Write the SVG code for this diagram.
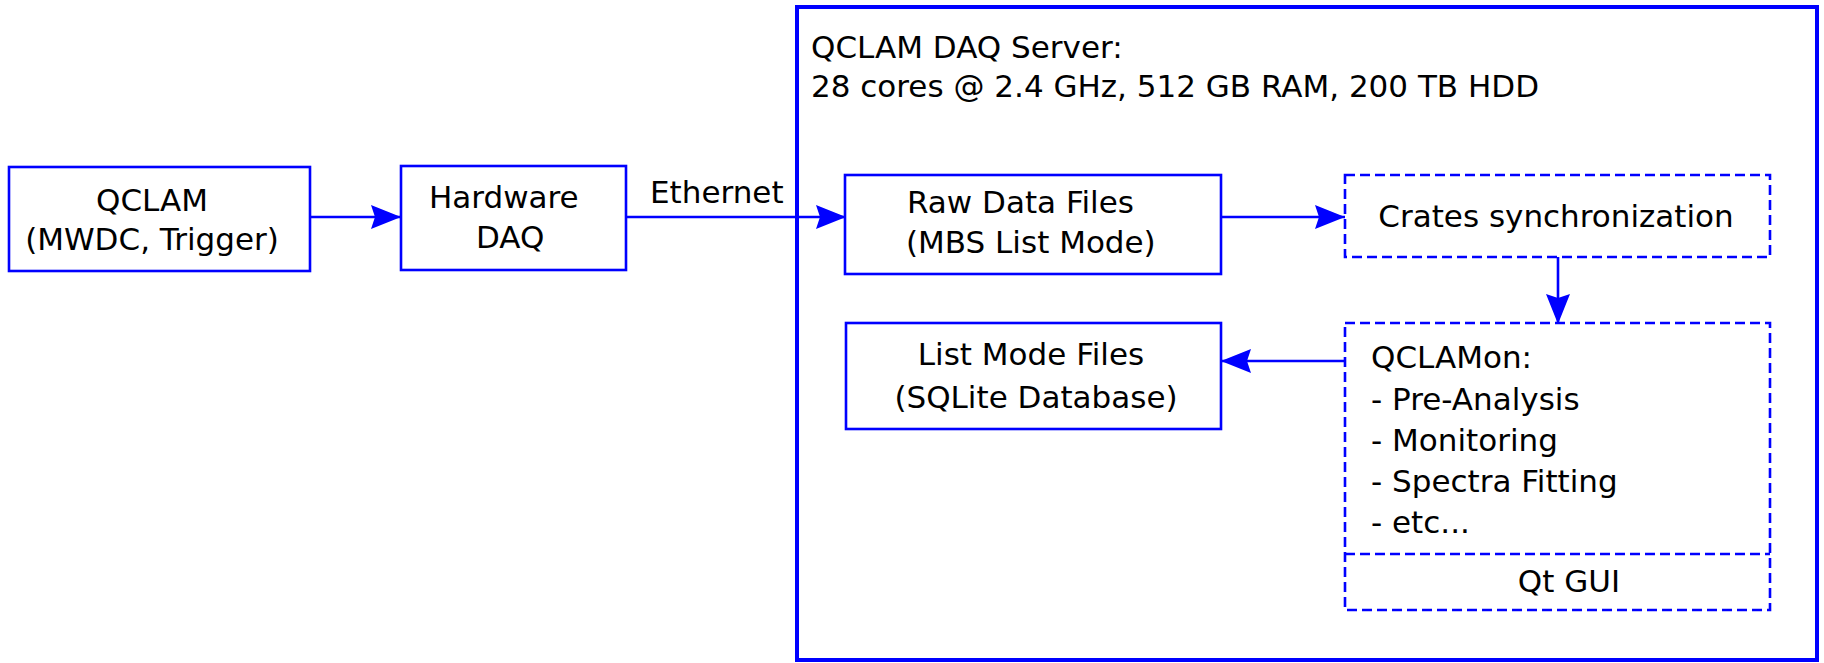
<svg xmlns="http://www.w3.org/2000/svg" width="1824" height="663" viewBox="0 0 1824 663">
<style>
text{font-family:"DejaVu Sans","Liberation Sans",sans-serif;font-size:31px;fill:#000}
.box{fill:none;stroke:#0000ff;stroke-width:2.6}
.dash{fill:none;stroke:#0000ff;stroke-width:2.6;stroke-dasharray:10 5}
.con{fill:none;stroke:#0000ff;stroke-width:2.6}
.mid{text-anchor:middle}
</style>
<defs>
<marker id="arr" markerUnits="userSpaceOnUse" markerWidth="32" markerHeight="26" refX="30" refY="12" orient="auto">
<path d="M0,0 L30,12 L0,24 L4,12 Z" fill="#0000ff"/>
</marker>
</defs>
<rect x="1" y="1" width="1822" height="661" fill="#fff"/>
<g id="server">
<rect x="797" y="7" width="1020" height="653" fill="none" stroke="#0000ff" stroke-width="4"/>
<text x="811" y="58">QCLAM DAQ Server:</text>
<text x="811" y="97">28 cores @ 2.4 GHz, 512 GB RAM, 200 TB HDD</text>
</g>
<g id="qclam">
<rect class="box" x="9" y="167" width="301" height="104"/>
<text class="mid" x="152" y="211">QCLAM</text>
<text class="mid" x="152" y="250">(MWDC, Trigger)</text>
</g>
<g id="hwdaq">
<rect class="box" x="401" y="166" width="225" height="104"/>
<text x="429" y="208">Hardware</text>
<text x="476" y="248">DAQ</text>
</g>
<g id="raw">
<rect class="box" x="845" y="175" width="376" height="99"/>
<text x="907" y="213">Raw Data Files</text>
<text x="906" y="253">(MBS List Mode)</text>
</g>
<g id="crates">
<rect class="dash" x="1345" y="175" width="425" height="82"/>
<text class="mid" x="1556" y="227">Crates synchronization</text>
</g>
<g id="listmode">
<rect class="box" x="846" y="323" width="375" height="106"/>
<text class="mid" x="1031" y="365">List Mode Files</text>
<text class="mid" x="1036" y="408">(SQLite Database)</text>
</g>
<g id="qclamon">
<rect class="dash" x="1345" y="323" width="425" height="287"/>
<line class="dash" x1="1345" y1="554" x2="1770" y2="554"/>
<text x="1371" y="368">QCLAMon:</text>
<text x="1371" y="410">- Pre-Analysis</text>
<text x="1371" y="451">- Monitoring</text>
<text x="1371" y="492">- Spectra Fitting</text>
<text x="1371" y="533">- etc...</text>
<text class="mid" x="1569" y="592">Qt GUI</text>
</g>
<g id="connectors">
<line class="con" x1="310" y1="217" x2="401" y2="217" marker-end="url(#arr)"/>
<line class="con" x1="626" y1="217" x2="846" y2="217" marker-end="url(#arr)"/>
<text x="650" y="203">Ethernet</text>
<line class="con" x1="1221" y1="217" x2="1345" y2="217" marker-end="url(#arr)"/>
<line class="con" x1="1558" y1="257" x2="1558" y2="324" marker-end="url(#arr)"/>
<line class="con" x1="1345" y1="361" x2="1221" y2="361" marker-end="url(#arr)"/>
</g>
</svg>
